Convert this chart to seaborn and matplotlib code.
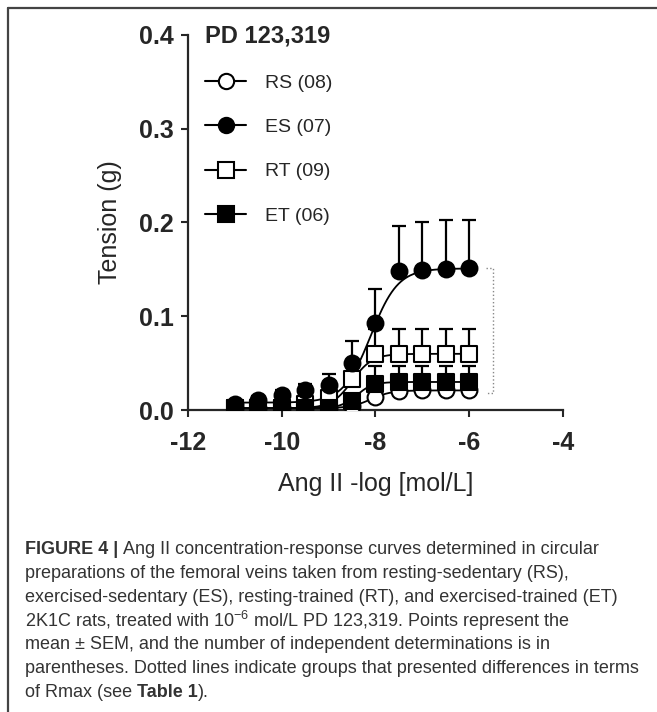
import numpy as np
import pandas as pd
import matplotlib
matplotlib.use("Agg")
import matplotlib.pyplot as plt
from matplotlib.lines import Line2D
import seaborn as sns

# ---------------- Data ----------------
log_conc = [-11, -10.5, -10, -9.5, -9, -8.5, -8, -7.5, -7, -6.5, -6]

rs_mean = [0.002, 0.002, 0.002, 0.002, 0.002, 0.004, 0.014, 0.020, 0.021, 0.021, 0.021]
rs_sem = [0.001, 0.001, 0.001, 0.001, 0.001, 0.002, 0.004, 0.004, 0.004, 0.004, 0.004]
es_mean = [0.007, 0.011, 0.016, 0.021, 0.027, 0.050, 0.093, 0.148, 0.149, 0.150, 0.152]
es_sem = [0.003, 0.004, 0.005, 0.007, 0.011, 0.024, 0.036, 0.048, 0.052, 0.053, 0.051]
rt_mean = [0.002, 0.002, 0.002, 0.007, 0.013, 0.033, 0.060, 0.060, 0.060, 0.060, 0.060]
rt_sem = [0.001, 0.001, 0.001, 0.002, 0.004, 0.008, 0.026, 0.026, 0.026, 0.026, 0.026]
et_mean = [0.002, 0.002, 0.002, 0.002, 0.002, 0.010, 0.028, 0.030, 0.030, 0.030, 0.030]
et_sem = [0.001, 0.001, 0.001, 0.001, 0.001, 0.003, 0.019, 0.017, 0.017, 0.017, 0.017]

# sigmoid fit parameters: bottom, top, logEC50, hill
rs_fit = [0.002, 0.021, -8.1, 2.0]
es_fit = [0.008, 0.151, -8.1, 1.5]
rt_fit = [0.002, 0.060, -8.5, 2.0]
et_fit = [0.002, 0.030, -8.4, 2.5]

group_labels = ["RS (08)", "ES (07)", "RT (09)", "ET (06)"]
x_ticks = [-12, -10, -8, -6, -4]
y_ticks = [0.0, 0.1, 0.2, 0.3, 0.4]

# ---------------- Style ----------------
sns.set_style("ticks")
plt.rcParams["font.family"] = ["Liberation Sans", "DejaVu Sans"]
plt.rcParams["mathtext.fontset"] = "custom"
plt.rcParams["mathtext.rm"] = "Liberation Sans"


def sigmoid(x, p):
    bottom, top, ec50, hill = p
    return bottom + (top - bottom) / (1 + 10 ** ((ec50 - x) * hill))


fig = plt.figure(figsize=(6.57, 7.12), dpi=100)
ax = fig.add_axes([0.286, 0.424, 0.571, 0.527])

# drawing order: later groups sit on top
groups = [
    ("RS", rs_mean, rs_sem, rs_fit, "o", "white"),
    ("RT", rt_mean, rt_sem, rt_fit, "s", "white"),
    ("ES", es_mean, es_sem, es_fit, "o", "black"),
    ("ET", et_mean, et_sem, et_fit, "s", "black"),
]

xs = np.linspace(-11, -6, 200)
for name, mean, sem, fit, mk, fc in groups:
    curve = pd.DataFrame({"x": xs, "y": sigmoid(xs, fit)})
    sns.lineplot(data=curve, x="x", y="y", ax=ax, color="black", lw=1.3, zorder=2)
    ax.errorbar(log_conc, mean, yerr=[np.zeros(len(sem)), sem], fmt="none",
                ecolor="black", elinewidth=1.6, capsize=5, capthick=1.6, zorder=3)
    pts = pd.DataFrame({"x": log_conc, "y": mean})
    sns.scatterplot(data=pts, x="x", y="y", ax=ax, marker=mk, s=130,
                    facecolor=fc, edgecolor="black", linewidth=1.5, zorder=4)

# dotted bracket (Rmax difference)
bx, bx0 = -5.5, -5.65
ax.plot([bx0, bx, bx, bx0], [es_mean[-1], es_mean[-1], rs_mean[-1] - 0.003, rs_mean[-1] - 0.003],
        ls=":", color="#888888", lw=1.0, zorder=1)

ax.set_xlim(-12, -4)
ax.set_ylim(0, 0.4)
ax.set_xticks(x_ticks)
ax.set_yticks(y_ticks)
ax.set_xticklabels([str(t) for t in x_ticks], fontsize=18, fontweight="bold")
ax.set_yticklabels([f"{t:.1f}" for t in y_ticks], fontsize=18, fontweight="bold")
ax.tick_params(direction="out", length=5, width=1.5)
ax.tick_params(axis="x", pad=10)
ax.tick_params(axis="y", pad=5)
for s in ["left", "bottom"]:
    ax.spines[s].set_linewidth(1.6)
sns.despine(ax=ax)
ax.set_xlabel("Ang II -log [mol/L]", fontsize=18, labelpad=12)
ax.set_ylabel("Tension (g)", fontsize=18, labelpad=12)

handles = [
    Line2D([], [], color="black", lw=1.5, marker="o", mfc="white", mec="black", ms=11, mew=1.5),
    Line2D([], [], color="black", lw=1.5, marker="o", mfc="black", mec="black", ms=11, mew=1.5),
    Line2D([], [], color="black", lw=1.5, marker="s", mfc="white", mec="black", ms=11, mew=1.5),
    Line2D([], [], color="black", lw=1.5, marker="s", mfc="black", mec="black", ms=11, mew=1.5),
]
leg = ax.legend(handles, group_labels, title="PD 123,319", loc="upper left",
                bbox_to_anchor=(0.01, 1.065), frameon=False, fontsize=14,
                handlelength=2.1, handletextpad=0.95, labelspacing=1.38,
                alignment="left", borderpad=0.2)
leg.get_title().set_fontweight("bold")
leg.get_title().set_fontsize(17)

# frame of the figure panel
fig.add_artist(Line2D([0.012, 1.0], [0.9888, 0.9888], color="#444444", lw=1.6))
fig.add_artist(Line2D([0.012, 0.012], [0.0, 0.9888], color="#444444", lw=1.6))

# ---------------- Caption ----------------
caption = [
    [("FIGURE 4 | ", "bold"), ("Ang II concentration-response curves determined in circular", "normal")],
    [("preparations of the femoral veins taken from resting-sedentary (RS),", "normal")],
    [("exercised-sedentary (ES), resting-trained (RT), and exercised-trained (ET)", "normal")],
    [("2K1C rats, treated with $10^{-6}$ mol/L PD 123,319. Points represent the", "normal")],
    [("mean \u00b1 SEM, and the number of independent determinations is in", "normal")],
    [("parentheses. Dotted lines indicate groups that presented differences in terms", "normal")],
    [("of Rmax (see ", "normal"), ("Table 1", "bold"), (").", "normal")],
]
fig.canvas.draw()
renderer = fig.canvas.get_renderer()

y0 = 550
for i, runs in enumerate(caption):
    x = 25
    y = 1 - (y0 + i * 23.7) / 712
    for txt, wt in runs:
        t = fig.text(x / 657, y, txt, fontsize=13, fontweight=wt, color="#333333",
                     va="center", ha="left")
        bb = t.get_window_extent(renderer)
        x += bb.width

fig.savefig("out.png", dpi=100)
